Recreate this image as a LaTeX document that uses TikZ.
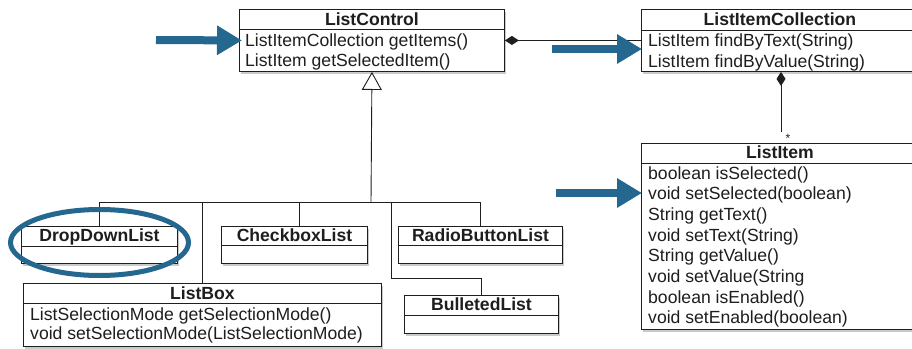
\documentclass[tikz,border=0pt]{standalone}
\usepackage{fontspec}
\setmainfont{Liberation Sans}
\usetikzlibrary{arrows.meta,shadows,calc}
\definecolor{hl}{RGB}{36,104,144}
\definecolor{ink}{RGB}{30,30,30}
\begin{document}
\begin{tikzpicture}[x=1pt,y=-1pt,
  cls/.style={draw=ink, line width=0.9pt, fill=white, anchor=north west, inner sep=0pt,
    drop shadow={shadow xshift=1.5pt, shadow yshift=-3pt, fill=black!60, opacity=0.35}},
  ttl/.style={font=\fontsize{17.6}{20}\selectfont\bfseries, text=ink, anchor=base, inner sep=0pt},
  mem/.style={font=\fontsize{17.6}{20}\selectfont, text=ink, anchor=base west, inner sep=0pt},
  conn/.style={line width=0.9pt, draw=ink},
  hlarrow/.style={draw=hl, fill=hl, line width=8pt, -{Triangle[length=25pt,width=28pt]}}
]
\useasboundingbox (0,0) rectangle (912,348);
\clip (0,0) rectangle (912,348);

% ---------- classes ----------
\node[cls, minimum width=265pt, minimum height=62pt] (lc) at (239,9) {};
\draw[conn] ($(lc.north west)+(0,20)$) -- ($(lc.north east)+(0,20)$);
\node[ttl] (lct) at ($(lc.north)+(0,16)$) {ListControl};
\node[mem] (lc1) at (245,46) {ListItemCollection getItems()};
\node[mem] (lc2) at (245,66) {ListItem getSelectedItem()};

\node[cls, minimum width=277pt, minimum height=62pt] (lic) at (641,9) {};
\draw[conn] ($(lic.north west)+(0,21)$) -- ($(lic.north east)+(0,21)$);
\node[ttl] (lict) at ($(lic.north)+(0,16)$) {ListItemCollection};
\node[mem] (lic1) at (648,46) {ListItem findByText(String)};
\node[mem] (lic2) at (648,67) {ListItem findByValue(String)};

\node[cls, minimum width=277pt, minimum height=186pt] (li) at (641,143) {};
\draw[conn] ($(li.north west)+(0,20)$) -- ($(li.north east)+(0,20)$);
\node[ttl] (lit) at ($(li.north)+(0,15)$) {ListItem};
\foreach \t [count=\i from 0] in {boolean isSelected(), void setSelected(boolean), String getText(), void setText(String), String getValue(), void setValue(String, boolean isEnabled(), void setEnabled(boolean)}
  \node[mem] (li\i) at (648,179+20.7*\i) {\t};

\node[cls, minimum width=156pt, minimum height=37pt] (ddl) at (21,226) {};
\draw[conn] ($(ddl.north west)+(0,20)$) -- ($(ddl.north east)+(0,20)$);
\node[ttl] (ddlt) at ($(ddl.north)+(0,15)$) {DropDownList};

\node[cls, minimum width=146pt, minimum height=37pt] (cbl) at (221,226) {};
\draw[conn] ($(cbl.north west)+(0,19)$) -- ($(cbl.north east)+(0,19)$);
\node[ttl] (cblt) at ($(cbl.north)+(0,15)$) {CheckboxList};

\node[cls, minimum width=164pt, minimum height=37pt] (rbl) at (398,226) {};
\draw[conn] ($(rbl.north west)+(0,19)$) -- ($(rbl.north east)+(0,19)$);
\node[ttl] (rblt) at ($(rbl.north)+(0,15)$) {RadioButtonList};

\node[cls, minimum width=154pt, minimum height=38pt] (bl) at (404,295) {};
\draw[conn] ($(bl.north west)+(0,20)$) -- ($(bl.north east)+(0,20)$);
\node[ttl] (blt) at ($(bl.north)+(0,15)$) {BulletedList};

\node[cls, minimum width=358pt, minimum height=63pt] (lb) at (23,283) {};
\draw[conn] ($(lb.north west)+(0,20)$) -- ($(lb.north east)+(0,20)$);
\node[ttl] (lbt) at ($(lb.north)+(0,16)$) {ListBox};
\node[mem] (lb1) at (30,320) {ListSelectionMode getSelectionMode()};
\node[mem] (lb2) at (30,339) {void setSelectionMode(ListSelectionMode)};

% ---------- composition ----------
\draw[conn, {Diamond[length=14pt,width=9pt]}-] (lc.east) -- (lic.west);
\coordinate (cs) at ($(lic.south west)+(140,0)$);
\coordinate (ce) at (781,132);
\draw[conn, {Diamond[length=14pt,width=9pt]}-] (cs) -- (ce);
\node[font=\fontsize{12}{12}\selectfont, text=ink, inner sep=0pt] (star) at (788,138) {*};

% ---------- generalisation ----------
\coordinate (j) at (371,202);
\draw[conn, -{Triangle[open,length=18pt,width=20pt]}] (j) -- (lc.south);
\draw[conn] (ddl.north) |- (j);
\draw[conn] (rbl.north) |- (j);
\draw[conn] ($(cbl.north)+(5,0)$) |- (j);
\draw[conn] (lb.north) -- (lb.north |- j);
\draw[conn] (bl.north) -- ++(0,-17) -| ($(j)+(20,0)$);

% ---------- highlights ----------
\coordinate (a1) at (156,40);
\coordinate (a2) at (552,49);
\coordinate (a3) at (556,193);
\draw[hlarrow] (a1) -- ($(lc.west)+(3,0)$);
\draw[hlarrow] (a2) -- ($(lic.west |- a2)+(1,0)$);
\draw[hlarrow] (a3) -- ($(li.north west |- a3)+(1,0)$);
\draw[hl, line width=5pt] (99.5,242.5) ellipse [x radius=89pt, y radius=33pt];
\end{tikzpicture}
\end{document}
